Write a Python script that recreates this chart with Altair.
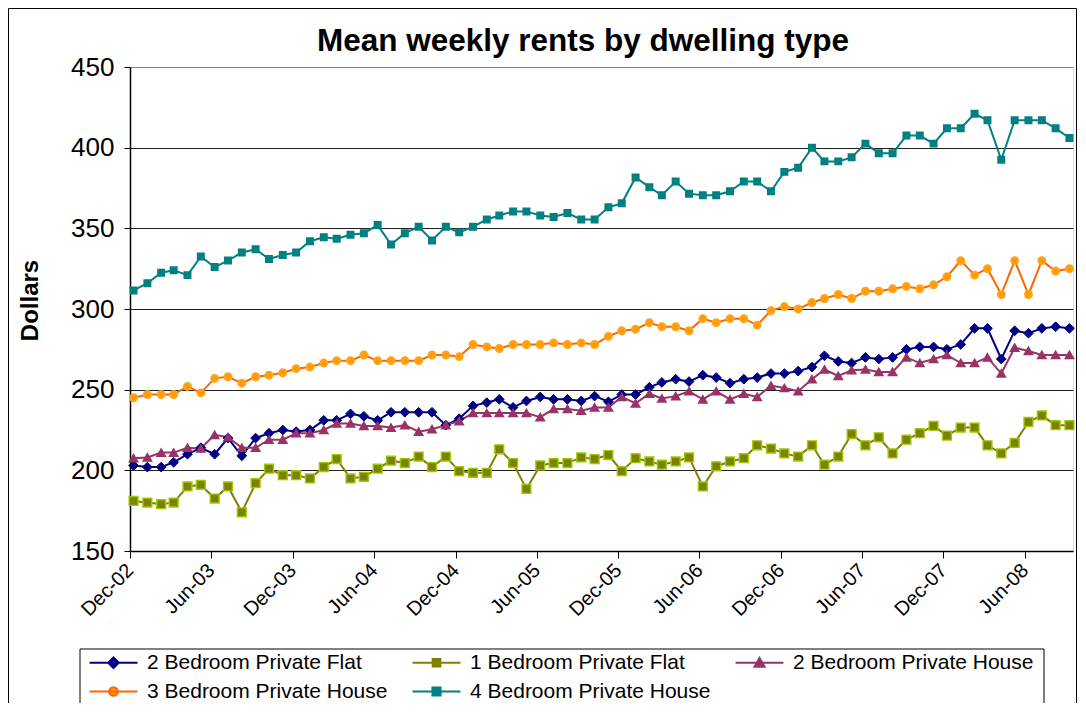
import altair as alt
import pandas as pd

# Monthly observations, Dec-02 .. Sep-08 (70 months)
months = [d.strftime("%Y-%m-%d") for d in
          pd.date_range("2002-12-09", periods=70, freq=pd.DateOffset(months=1))]

series_names = ["2 Bedroom Private Flat", "1 Bedroom Private Flat",
                "2 Bedroom Private House", "3 Bedroom Private House",
                "4 Bedroom Private House"]

flat2 = [203, 202, 202, 205, 210, 214, 210, 220, 209, 220,
         223, 225, 224, 225, 231, 231, 235, 233.5, 231, 236,
         236, 236, 236, 228, 232, 240, 242, 244, 239, 243,
         245.5, 244, 244, 243, 246, 242.5, 247, 247, 251.5, 254.5,
         256.5, 255, 259, 257.5, 254, 256.5, 257.5, 260, 260, 261.5,
         264, 271, 267.5, 266.5, 270, 269, 270, 275, 276.5, 276.5,
         275, 278, 288, 288, 269, 286.5, 285, 288, 289, 288]

flat1 = [181, 180, 179, 180, 190, 191, 182.5, 190, 174, 192,
         201, 197, 197, 195, 202, 207, 195, 196, 201, 206,
         204.5, 208.5, 202, 208.5, 199.5, 198.5, 198.5, 213, 204.5, 188.5,
         203, 204.5, 204.5, 208, 207, 209.5, 199.5, 207.5, 205.5, 203.5,
         205.5, 208, 190, 202.5, 205.5, 207.5, 215.5, 213.5, 210.5, 208.5,
         215.5, 203.5, 208.5, 222.5, 215.5, 220.5, 210.5, 219, 223, 227.5,
         221.5, 226.5, 226.5, 215.5, 210.5, 217, 230, 234, 228, 228]

house2 = [207.5, 208, 211, 211, 214, 213.5, 222, 220.5, 214, 214,
          219, 219, 223, 223, 225, 229, 229, 227.5, 227.5, 226.5,
          228, 224, 225.5, 228, 230.5, 235.5, 235.5, 235.5, 235.5, 235.5,
          233, 238, 238, 237, 239, 239, 245.5, 241.5, 247.5, 244.5,
          246, 249, 244, 249, 244, 247.5, 245.5, 252.5, 251, 249,
          256.5, 262.5, 258.5, 262, 262.5, 261, 261, 270, 266.5, 269,
          271.5, 266.5, 266.5, 270, 260, 276, 274, 271.5, 271.5, 271.5]

house3 = [245, 247, 247, 247, 252, 248, 257, 258, 254, 258,
          259, 260.5, 263, 264, 266.5, 268, 268, 271.5, 268, 268,
          268, 268, 271.5, 271.5, 270.5, 278, 276.5, 275.5, 278, 278,
          278, 279, 278, 279, 278, 283, 286.5, 287.5, 291.5, 289,
          289, 286.5, 294, 291.5, 294, 294, 290, 299, 301.5, 300,
          304, 306.5, 309, 306.5, 311, 311, 312.5, 314, 312.5, 315,
          320, 330, 321, 325, 309, 330, 309, 330, 323.5, 325]

house4 = [311.5, 316, 322.5, 324, 321, 332.5, 326, 330, 335, 337,
          331, 333.5, 335, 342, 344.5, 343.5, 346, 347, 352, 340,
          347, 351, 342.5, 351, 347.5, 351, 355.5, 358, 360.5, 360.5,
          358, 357, 359.5, 355.5, 355.5, 363, 365.5, 381.5, 375.5, 370.5,
          379, 371.5, 370.5, 370.5, 373, 379, 379, 373, 385, 387.5,
          400, 391.5, 391.5, 394, 402.5, 396.5, 396.5, 407.5, 407.5, 402.5,
          412, 412, 421, 417, 392.5, 417, 417, 417, 412, 406]

chart_title = "Mean weekly rents by dwelling type"
y_title = "Dollars"
y_ticks = [150, 200, 250, 300, 350, 400, 450]
x_tick_months = [(2002, 12), (2003, 6), (2003, 12), (2004, 6), (2004, 12), (2005, 6),
                 (2005, 12), (2006, 6), (2006, 12), (2007, 6), (2007, 12), (2008, 6)]

rows = []
for name, vals in zip(series_names, [flat2, flat1, house2, house3, house4]):
    for d, v in zip(months, vals):
        rows.append({"date": d, "series": name, "rent": v})
df = pd.DataFrame(rows)

line_colors = ["#000080", "#808000", "#993366", "#FF6600", "#008080"]
marker_fill = ["#000080", "#808000", "#993366", "#FF9900", "#008080"]
marker_stroke = ["#000080", "#99CC00", "#993366", "#FFA31A", "#008080"]
marker_shapes = ["diamond", "square", "triangle-up", "circle", "square"]
marker_sizes = [95, 30, 95, 45, 64]
marker_strokew = [1, 2.5, 1, 1.5, 1]
legend_paths = [
    "M-5,0H5M0,-1.1L1.1,0L0,1.1L-1.1,0Z",
    "M-5,0H5M-0.8,-0.8H0.8V0.8H-0.8Z",
    "M-5,0H5M0,-1L1.05,0.85H-1.05Z",
    "M-5,0H5M-0.9,0A0.9,0.9 0 1,0 0.9,0A0.9,0.9 0 1,0 -0.9,0Z",
    "M-5,0H5M-0.85,-0.85H0.85V0.85H-0.85Z",
]

FONT = "Liberation Sans"

x_enc = alt.X(
    "date:T",
    scale=alt.Scale(type="utc", domain=[alt.DateTime(year=2002, month=12, date=1, utc=True),
                                        alt.DateTime(year=2008, month=9, date=17, utc=True)]),
    axis=alt.Axis(values=[alt.DateTime(year=y, month=m, date=1, utc=True) for y, m in x_tick_months],
                  labelExpr="utcFormat(datum.value, '%b-%y')", labelAngle=-45, labelAlign="right",
                  labelBaseline="middle", labelPadding=9, labelOffset=0,
                  labelFont=FONT, labelFontSize=20, labelColor="black",
                  tickColor="black", tickSize=7, domainColor="black", domainWidth=1.5,
                  grid=False, title=None, labelOverlap=False),
)
y_enc = alt.Y(
    "rent:Q",
    scale=alt.Scale(domain=[150, 450], nice=False, zero=False),
    axis=alt.Axis(values=y_ticks, title=y_title, titleFont=FONT, titleFontSize=24,
                  titleFontWeight="bold", titleColor="black", titleAngle=270,
                  titleX=-100, titleY=233, titleAlign="center", titleBaseline="middle",
                  labelFont=FONT, labelFontSize=26, labelColor="black", labelPadding=10,
                  tickColor="black", tickSize=6, domainColor="black", domainWidth=1.5,
                  gridColor=alt.condition("datum.value == 450", alt.value("#808080"), alt.value("#202020")),
                  gridWidth=1, labelOverlap=False),
)

base = alt.Chart(df).encode(x=x_enc, y=y_enc)

lines = base.mark_line(strokeWidth=2).encode(
    color=alt.Color("series:N", scale=alt.Scale(domain=series_names, range=line_colors), legend=None)
)

points = base.mark_point(filled=True, opacity=1).encode(
    shape=alt.Shape("series:N", scale=alt.Scale(domain=series_names, range=marker_shapes), legend=None),
    fill=alt.Fill("series:N", scale=alt.Scale(domain=series_names, range=marker_fill), legend=None),
    stroke=alt.Stroke("series:N", scale=alt.Scale(domain=series_names, range=marker_stroke), legend=None),
    size=alt.Size("series:N", scale=alt.Scale(domain=series_names, range=marker_sizes), legend=None),
    strokeWidth=alt.StrokeWidth("series:N", scale=alt.Scale(domain=series_names, range=marker_strokew), legend=None),
)

leg = alt.Legend(title=None, orient="none", legendX=-27, legendY=585, columns=3,
                 direction="horizontal", columnPadding=20, rowPadding=7,
                 symbolSize=92, symbolStrokeWidth=2, symbolOpacity=1,
                 labelFont=FONT, labelFontSize=21, labelColor="black", labelOffset=23,
                 labelLimit=400)

legend_layer = alt.Chart(df).transform_filter("false").mark_point(filled=True, opacity=1).encode(
    x=x_enc, y=y_enc,
    fill=alt.Fill("series:N", scale=alt.Scale(domain=series_names, range=marker_fill), legend=leg),
    stroke=alt.Stroke("series:N", scale=alt.Scale(domain=series_names, range=line_colors), legend=leg),
    shape=alt.Shape("series:N", scale=alt.Scale(domain=series_names, range=legend_paths), legend=leg),
)

deco = alt.Data(values=[{"title": chart_title}])
frame = alt.Chart(deco).mark_rect(fillOpacity=0, stroke="black", strokeWidth=1).encode(
    x=alt.value(-121.5), x2=alt.value(946.5), y=alt.value(-58.5), y2=alt.value(700))
legend_box = alt.Chart(deco).mark_rect(fillOpacity=0, stroke="black", strokeWidth=1).encode(
    x=alt.value(-50), x2=alt.value(914), y=alt.value(582), y2=alt.value(700))
title_text = alt.Chart(deco).mark_text(font=FONT, fontSize=31.5, fontWeight="bold", color="black",
                                       align="center", baseline="alphabetic").encode(
    text="title:N", x=alt.value(453), y=alt.value(-16))

chart = alt.layer(frame, legend_box, title_text, lines, points, legend_layer).resolve_scale(
    shape="independent", fill="independent", stroke="independent"
).properties(
    width=943, height=484,
    autosize=alt.AutoSizeParams(type="none"),
    padding={"left": 122, "top": 59, "right": 5, "bottom": 152},
).configure_view(stroke="#808080", strokeWidth=1.5).configure(background="white")

chart.save("out.html", embed_options={"renderer": "svg", "actions": False})
